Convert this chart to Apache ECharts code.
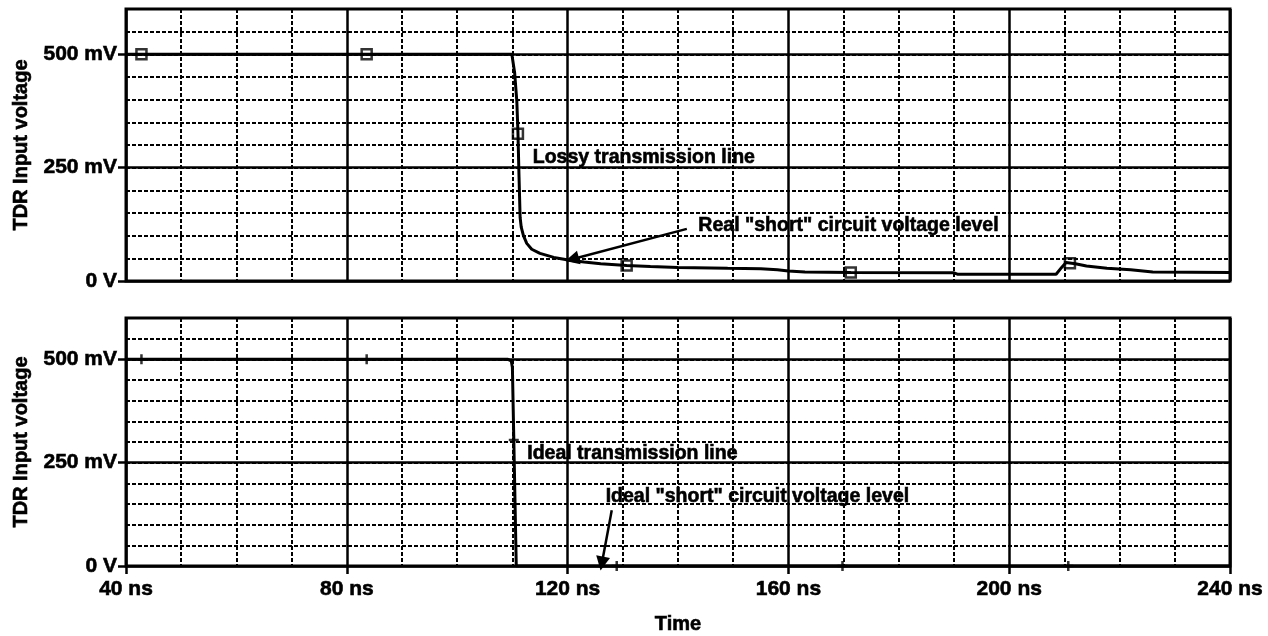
<!DOCTYPE html>
<html>
<head>
<meta charset="utf-8">
<script src="https://cdn.jsdelivr.net/npm/echarts@6/dist/echarts.min.js"></script>
<style>
  html, body { margin: 0; padding: 0; background: #fff; }
  #chart { width: 1268px; height: 636px; }
</style>
</head>
<body>
<div id="chart"></div>
<script>
// TDR input voltage, time in ns, voltage in mV

// Lossy line: step reflection decays slowly toward the real short-circuit level
const lossyTrace = [
  [40, 500], [109.9, 500], [110.4, 460], [110.8, 397], [111.0, 330], [111.2, 230],
  [111.4, 140], [111.6, 119], [112.0, 100], [112.6, 83], [113.5, 70], [115.0, 61],
  [117.5, 52], [120.4, 46], [123, 42], [126, 38], [130.7, 34], [135, 32], [140, 30],
  [149, 28], [155, 27], [158, 25], [160, 22], [163, 20], [171.3, 19], [190, 18],
  [190.6, 15], [208.5, 15], [209.5, 30], [210.3, 41], [212, 38], [214, 33],
  [217.7, 28], [222, 25], [226, 20], [240, 19]
];
const lossyMarkers = [[42.8, 500], [83.6, 500], [111.0, 325], [130.7, 34], [171.3, 19], [211.0, 39]];

// Ideal line: near-instant drop to 0 V
const idealTrace = [
  [40, 500], [109.2, 500], [109.8, 496], [110.0, 480], [110.7, 0], [240, 0]
];
const idealMarkers = [[42.8, 500], [83.6, 500], [110.25, 305], [128.9, 0], [169.8, 0], [210.7, 0]];

const voltageTicks = [0, 250, 500];
const voltageTickLabels = ['0 V', '250 mV', '500 mV'];
const timeTicks = [40, 80, 120, 160, 200, 240];
const timeTickLabels = ['40 ns', '80 ns', '120 ns', '160 ns', '200 ns', '240 ns'];

const FONT = '"Liberation Sans", Arial, Helvetica, sans-serif';
const INK = '#000';
// heavy bold lettering: bold face plus a thin outline in the same ink
const textStyle = (size) => ({
  color: INK, fontSize: size, fontWeight: 'bold', fontFamily: FONT,
  textBorderColor: INK, textBorderWidth: 0.6
});

function timeAxis(gridIndex, labelled) {
  return {
    type: 'value', gridIndex, min: 40, max: 240, interval: 40,
    name: labelled ? 'Time' : '', nameLocation: 'middle', nameGap: 48,
    nameTextStyle: textStyle(20),
    axisLine: { show: false },
    axisTick: { show: labelled, length: 8, lineStyle: { color: INK, width: 2.5 } },
    axisLabel: Object.assign({
      show: labelled, margin: 13,
      formatter: (v) => timeTickLabels[timeTicks.indexOf(v)] || ''
    }, textStyle(21)),
    splitLine: { show: true, lineStyle: { color: INK, width: 2.5 } },
    minorTick: { show: false, splitNumber: 4 },
    minorSplitLine: { show: true, lineStyle: { color: INK, width: 2, type: [4, 2] } }
  };
}

function voltageAxes(gridIndex) {
  return [
    { // 50 mV dashed grid
      type: 'value', gridIndex, position: 'left', min: 0, max: 600, interval: 50,
      axisLine: { show: false }, axisTick: { show: false }, axisLabel: { show: false },
      splitLine: { show: true, lineStyle: { color: INK, width: 2, type: [4, 2] } }
    },
    { // labelled 250 mV axis
      type: 'value', gridIndex, position: 'left', min: 0, max: 600, interval: 250,
      name: 'TDR Input voltage', nameLocation: 'middle', nameGap: 93,
      nameTextStyle: textStyle(20),
      axisLine: { show: false },
      axisTick: { show: true, length: 8, customValues: voltageTicks, lineStyle: { color: INK, width: 2.5 } },
      axisLabel: Object.assign({
        show: true, margin: 9, customValues: voltageTicks,
        formatter: (v) => voltageTickLabels[voltageTicks.indexOf(v)] || ''
      }, textStyle(21)),
      splitLine: { show: true, lineStyle: { color: INK, width: 2.5 } }
    }
  ];
}

const arrowHead = 'path://M5,0L10,16L0,16Z';

function note(name, coord) {
  return { name, coord };
}

const option = {
  animation: false,
  backgroundColor: '#fff',
  grid: [
    { left: 126, right: 38, top: 9, height: 272, show: true, borderColor: INK, borderWidth: 3, backgroundColor: '#fff' },
    { left: 126, right: 38, top: 318, height: 248, show: true, borderColor: INK, borderWidth: 3, backgroundColor: '#fff' }
  ],
  xAxis: [timeAxis(0, false), timeAxis(1, true)],
  yAxis: voltageAxes(0).concat(voltageAxes(1)),
  series: [
    {
      name: 'Lossy transmission line', type: 'line', xAxisIndex: 0, yAxisIndex: 1,
      data: lossyTrace, showSymbol: false, smooth: false, z: 5,
      lineStyle: { color: INK, width: 3 },
      markLine: {
        silent: true, symbol: ['none', arrowHead], symbolSize: 14,
        lineStyle: { color: INK, width: 2.5, type: 'solid' },
        label: { show: false },
        data: [[{ coord: [141.6, 115] }, { coord: [120.8, 48] }]]
      },
      markPoint: {
        silent: true, symbol: 'circle', symbolSize: 1,
        itemStyle: { color: 'rgba(0,0,0,0)' },
        label: Object.assign({ show: true, position: 'right', distance: 0, formatter: '{b}' }, textStyle(19.5)),
        data: [
          note('Lossy transmission line', [113.6, 272]),
          note('Real "short" circuit voltage level', [143.6, 123])
        ]
      }
    },
    {
      name: 'Lossy markers', type: 'scatter', xAxisIndex: 0, yAxisIndex: 1,
      data: lossyMarkers, symbol: 'rect', symbolSize: 10, z: 6,
      itemStyle: { color: 'rgba(0,0,0,0)', borderColor: INK, borderWidth: 2.5 }
    },
    {
      name: 'Ideal transmission line', type: 'line', xAxisIndex: 1, yAxisIndex: 3,
      data: idealTrace, showSymbol: false, smooth: false, z: 5,
      lineStyle: { color: INK, width: 3 },
      markLine: {
        silent: true, symbol: ['none', arrowHead], symbolSize: 14,
        lineStyle: { color: INK, width: 2.5, type: 'solid' },
        label: { show: false },
        data: [[{ coord: [128.0, 135] }, { coord: [126.2, 6] }]]
      },
      markPoint: {
        silent: true, symbol: 'circle', symbolSize: 1,
        itemStyle: { color: 'rgba(0,0,0,0)' },
        label: Object.assign({ show: true, position: 'right', distance: 0, formatter: '{b}' }, textStyle(19.5)),
        data: [
          note('Ideal transmission line', [112.6, 272]),
          note('Ideal "short" circuit voltage level', [126.8, 167])
        ]
      }
    },
    {
      name: 'Ideal markers', type: 'scatter', xAxisIndex: 1, yAxisIndex: 3,
      data: idealMarkers, symbol: 'path://M5,0L5,10M0,5L10,5', symbolSize: 10, z: 6,
      itemStyle: { color: 'rgba(0,0,0,0)', borderColor: INK, borderWidth: 2.5 }
    }
  ]
};

const chart = echarts.init(document.getElementById('chart'), null, { renderer: 'canvas' });
chart.setOption(option);
</script>
</body>
</html>
